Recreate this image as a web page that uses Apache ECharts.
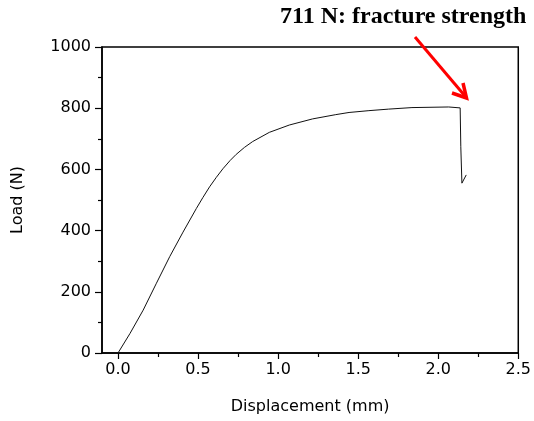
<!DOCTYPE html>
<html>
<head>
<meta charset="utf-8">
<style>
  html, body { margin: 0; padding: 0; background: #fff; }
  #chart { width: 534px; height: 421px; }
</style>
<script src="https://cdn.jsdelivr.net/npm/echarts@6/dist/echarts.min.js"></script>
</head>
<body>
<div id="chart"></div>
<script>
// Load–displacement record of the tensile test
const displacementMm = [0.0, 0.075, 0.157, 0.24, 0.323, 0.406, 0.489, 0.53, 0.572, 0.614, 0.655, 0.70, 0.738, 0.79, 0.841, 0.945, 1.07, 1.215, 1.36, 1.443, 1.567, 1.69, 1.836, 2.065, 2.137, 2.141, 2.148, 2.175];
const loadN          = [0,   64,    140,   228,  315,   395,   472,   508,  543,   574,   602,   629,  649,   672,  691,   721,   745,  765,   779,  786,   792,   797,  802,   804,   801,   674,   555,   582];

// Axis tick values
const xMajorTicks = [0.0, 0.5, 1.0, 1.5, 2.0, 2.5];
const xMinorTicks = [0.25, 0.75, 1.25, 1.75, 2.25];

const annotationText = '711 N: fracture strength';

const chart = echarts.init(document.getElementById('chart'));
const curve = displacementMm.map((d, i) => [d, loadN[i]]);
const tickFont = { fontFamily: 'DejaVu Sans', fontSize: 16, color: '#000' };

chart.setOption({
  animation: false,
  backgroundColor: '#fff',
  grid: {
    left: 102, top: 47, right: 13, bottom: 68,
    show: true, borderColor: '#000', borderWidth: 1.5, backgroundColor: 'transparent'
  },
  xAxis: [
    {
      type: 'value', min: -0.1, max: 2.5,
      name: 'Displacement (mm)', nameLocation: 'middle', nameGap: 46,
      nameTextStyle: tickFont,
      axisLine: { show: true, onZero: false, lineStyle: { color: '#000', width: 1.5 } },
      axisTick: { show: true, inside: false, length: 6, customValues: xMajorTicks, lineStyle: { color: '#000', width: 1.2 } },
      axisLabel: { show: true, margin: 9, customValues: xMajorTicks, formatter: v => v.toFixed(1), ...tickFont },
      splitLine: { show: false }
    },
    {
      type: 'value', min: -0.1, max: 2.5, position: 'bottom',
      axisLine: { show: false },
      axisTick: { show: true, inside: false, length: 4, customValues: xMinorTicks, lineStyle: { color: '#000', width: 1.2 } },
      axisLabel: { show: false },
      splitLine: { show: false }
    }
  ],
  yAxis: {
    type: 'value', min: 0, max: 1000, interval: 200,
    name: 'Load (N)', nameLocation: 'middle', nameGap: 76, nameRotate: 90,
    nameTextStyle: tickFont,
    axisLine: { show: true, onZero: false, lineStyle: { color: '#000', width: 1.5 } },
    axisTick: { show: true, inside: false, length: 7, lineStyle: { color: '#000', width: 1.2 } },
    minorTick: { show: true, splitNumber: 2, length: 4, lineStyle: { color: '#000', width: 1.2 } },
    axisLabel: { margin: 11, formatter: v => String(v), ...tickFont },
    splitLine: { show: false }
  },
  series: [{
    type: 'line',
    data: curve,
    showSymbol: false,
    smooth: false,
    lineStyle: { color: '#111', width: 1 }
  }],
  graphic: [
    {
      type: 'text', left: 280, top: 5,
      style: { text: annotationText, font: 'bold 24px "Liberation Serif"', fill: '#000' }
    },
    {
      type: 'line',
      shape: { x1: 415, y1: 37, x2: 465, y2: 96 },
      style: { stroke: '#ff0000', lineWidth: 3 }
    },
    {
      type: 'polyline',
      shape: { points: [[452, 93], [466.5, 98], [463, 83]] },
      style: { stroke: '#ff0000', lineWidth: 3.5, fill: null, lineJoin: 'miter' }
    }
  ]
});
</script>
</body>
</html>
